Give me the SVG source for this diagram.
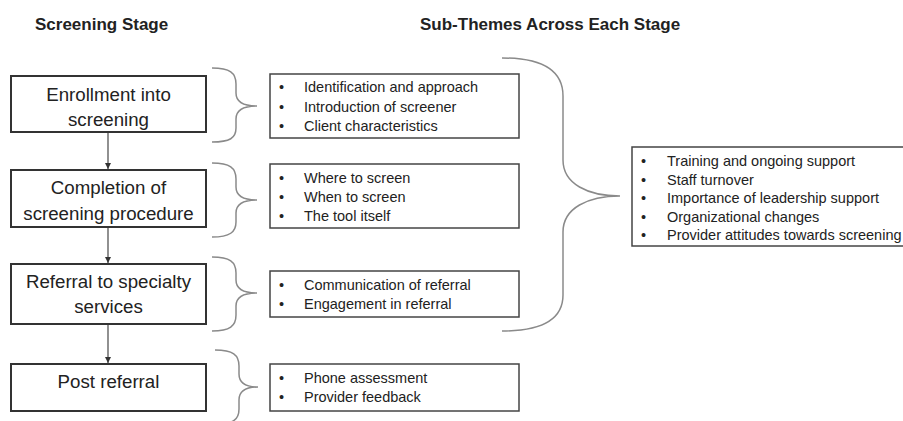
<svg xmlns="http://www.w3.org/2000/svg" width="903" height="421" viewBox="0 0 903 421">
<defs>
<style>
.title{font-family:"Liberation Sans",Arial,sans-serif;font-size:17px;font-weight:bold;fill:#222}
.stage{font-family:"Liberation Sans",Arial,sans-serif;font-size:18.7px;fill:#222;text-anchor:middle}
.item{font-family:"Liberation Sans",Arial,sans-serif;font-size:14.5px;fill:#222}
.box{fill:#fff;stroke:#333;stroke-width:2}
.sbox{fill:#fff;stroke:#444;stroke-width:1.5}
.brace{fill:none;stroke:#8a8a8a;stroke-width:1.5}
.conn{stroke:#555;stroke-width:1.3;fill:none}
</style>
<marker id="arr" viewBox="0 0 10 10" refX="10" refY="5" markerWidth="6" markerHeight="6" orient="auto" markerUnits="userSpaceOnUse">
<path d="M0,0 L10,5 L0,10 z" fill="#333"/>
</marker>
</defs>
<rect width="903" height="421" fill="#fff"/>
<text class="title" x="35" y="30">Screening Stage</text>
<text class="title" x="420" y="30">Sub-Themes Across Each Stage</text>

<g id="connectors">
<line class="conn" x1="108" y1="133" x2="108" y2="169" marker-end="url(#arr)"/>
<line class="conn" x1="108" y1="228" x2="108" y2="263" marker-end="url(#arr)"/>
<line class="conn" x1="108" y1="325" x2="108" y2="363" marker-end="url(#arr)"/>
<path class="brace" d="M212,68 C230,68 236,73 236,84 L236,93 C236,101 243,106 257,106 C243,106 236,111 236,119 L236,128 C236,138 230,142 212,142"/>
<path class="brace" d="M212,163 C230,163 236,168 236,179 L236,187 C236,195 243,200 257,200 C243,200 236,205 236,213 L236,222 C236,232 230,237 212,237"/>
<path class="brace" d="M212,257 C230,257 236,262 236,273 L236,280 C236,288 243,293 257,293 C243,293 236,298 236,306 L236,315 C236,326 230,331 212,331"/>
<path class="brace" d="M215,350 C233,350 239,355 239,366 L239,374 C239,382 245,387 258,387 C245,387 239,392 239,400 L239,409 C239,420 233,424 215,424"/>
<path class="brace" d="M502,58 C545,58 563,72 563,96 L563,160 C563,184 588,196 620,196 C588,196 563,208 563,232 L563,295 C563,318 545,331 502,331"/>
</g>

<g id="stage1">
<rect class="box" x="11" y="76" width="195" height="56"/>
<text class="stage" x="108.5" y="101">Enrollment into</text>
<text class="stage" x="108.5" y="126">screening</text>
</g>
<g id="stage2">
<rect class="box" x="11" y="170" width="195" height="57"/>
<text class="stage" x="108.5" y="194">Completion of</text>
<text class="stage" x="108.5" y="220">screening procedure</text>
</g>
<g id="stage3">
<rect class="box" x="11" y="264" width="195" height="60"/>
<text class="stage" x="108.5" y="288">Referral to specialty</text>
<text class="stage" x="108.5" y="313">services</text>
</g>
<g id="stage4">
<rect class="box" x="11" y="364" width="195" height="47"/>
<text class="stage" x="108.5" y="388">Post referral</text>
</g>

<g id="themes1">
<rect class="sbox" x="270" y="74" width="249" height="64"/>
<text class="item" x="279" y="92">•</text><text class="item" x="304" y="92">Identification and approach</text>
<text class="item" x="279" y="111.5">•</text><text class="item" x="304" y="111.5">Introduction of screener</text>
<text class="item" x="279" y="131">•</text><text class="item" x="304" y="131">Client characteristics</text>
</g>
<g id="themes2">
<rect class="sbox" x="270" y="164" width="249" height="64"/>
<text class="item" x="279" y="183">•</text><text class="item" x="304" y="183">Where to screen</text>
<text class="item" x="279" y="202">•</text><text class="item" x="304" y="202">When to screen</text>
<text class="item" x="279" y="221">•</text><text class="item" x="304" y="221">The tool itself</text>
</g>
<g id="themes3">
<rect class="sbox" x="270" y="271" width="249" height="46"/>
<text class="item" x="279" y="290">•</text><text class="item" x="304" y="290">Communication of referral</text>
<text class="item" x="279" y="309">•</text><text class="item" x="304" y="309">Engagement in referral</text>
</g>
<g id="themes4">
<rect class="sbox" x="270" y="364" width="249" height="47"/>
<text class="item" x="279" y="383">•</text><text class="item" x="304" y="383">Phone assessment</text>
<text class="item" x="279" y="402">•</text><text class="item" x="304" y="402">Provider feedback</text>
</g>
<g id="themes-cross">
<rect class="sbox" x="632" y="147" width="275" height="99"/>
<text class="item" x="641" y="166">•</text><text class="item" x="667" y="166">Training and ongoing support</text>
<text class="item" x="641" y="184.5">•</text><text class="item" x="667" y="184.5">Staff turnover</text>
<text class="item" x="641" y="203">•</text><text class="item" x="667" y="203">Importance of leadership support</text>
<text class="item" x="641" y="221.5">•</text><text class="item" x="667" y="221.5">Organizational changes</text>
<text class="item" x="641" y="240">•</text><text class="item" x="667" y="240">Provider attitudes towards screening</text>
</g>
</svg>
